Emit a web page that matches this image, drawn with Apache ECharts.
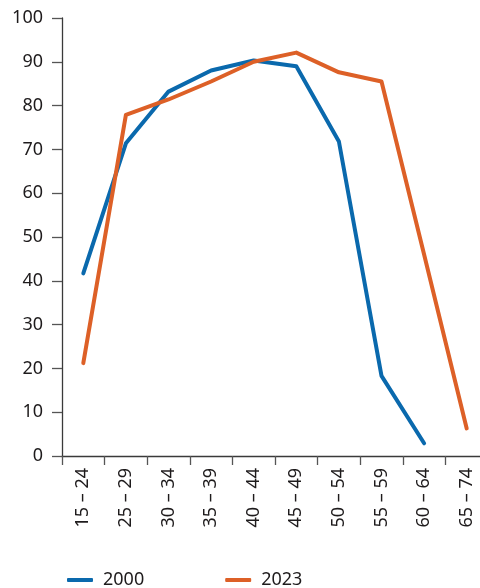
<!DOCTYPE html>
<html>
<head>
<meta charset="utf-8">
<script src="https://cdn.jsdelivr.net/npm/echarts@6/dist/echarts.min.js"></script>
<style>
  html, body { margin: 0; padding: 0; background: #fff; }
  #chart { width: 480px; height: 588px; }
</style>
</head>
<body>
<div id="chart"></div>
<script>
// Age groups along the x axis
const ageGroups = ['15 – 24', '25 – 29', '30 – 34', '35 – 39', '40 – 44',
                   '45 – 49', '50 – 54', '55 – 59', '60 – 64', '65 – 74'];

// Share by age group, per year (no 65–74 value for 2000)
const values2000 = [41.7, 71.4, 83.2, 88.0, 90.3, 89.0, 71.8, 18.3, 2.9, null];
const values2023 = [21.2, 77.9, 81.4, 85.5, 90.0, 92.1, 87.6, 85.5, 46.0, 6.3];

// Y axis scale
const yMin = 0, yMax = 100, yStep = 10;

const FONT = '"Noto Sans", sans-serif';
const TEXT = '#1e1b1c';
const BLUE = '#0a69ad';
const ORANGE = '#dd6027';

const chart = echarts.init(document.getElementById('chart'), null, { renderer: 'canvas' });

function lineSeries(name, data, color) {
  return {
    name: name,
    type: 'line',
    data: data,
    symbol: 'none',
    connectNulls: false,
    lineStyle: { color: color, width: 4, cap: 'round', join: 'round' },
    itemStyle: { color: color },
    emphasis: { disabled: true }
  };
}

chart.setOption({
  animation: false,
  textStyle: { fontFamily: FONT },
  // the plot runs slightly past the right edge of the canvas
  grid: { left: 62, right: -8, top: 18, bottom: 132, outerBoundsMode: 'none' },
  xAxis: {
    type: 'category',
    data: ageGroups,
    boundaryGap: true,
    axisLine: { show: true, lineStyle: { color: '#3a3a3a', width: 1.3 } },
    axisTick: { show: true, length: 9, lineStyle: { color: '#555', width: 1.3 } },
    axisLabel: {
      rotate: 90, margin: 12, interval: 0,
      fontFamily: FONT, fontSize: 18, color: TEXT
    },
    splitLine: { show: false }
  },
  yAxis: {
    type: 'value',
    min: yMin, max: yMax, interval: yStep,
    axisLine: { show: true, lineStyle: { color: '#3a3a3a', width: 1.3 } },
    axisTick: { show: true, length: 10, lineStyle: { color: '#555', width: 1.3 } },
    axisLabel: { margin: 19, fontFamily: FONT, fontSize: 18, color: TEXT },
    splitLine: { show: false }
  },
  legend: {
    left: 62, top: 566,
    icon: 'roundRect',
    itemWidth: 26, itemHeight: 4,
    itemGap: 81,
    textStyle: { fontFamily: FONT, fontSize: 18, color: TEXT, padding: [0, 0, 0, 5] },
    data: ['2000', '2023']
  },
  series: [
    lineSeries('2000', values2000, BLUE),
    lineSeries('2023', values2023, ORANGE)
  ]
});
</script>
</body>
</html>
